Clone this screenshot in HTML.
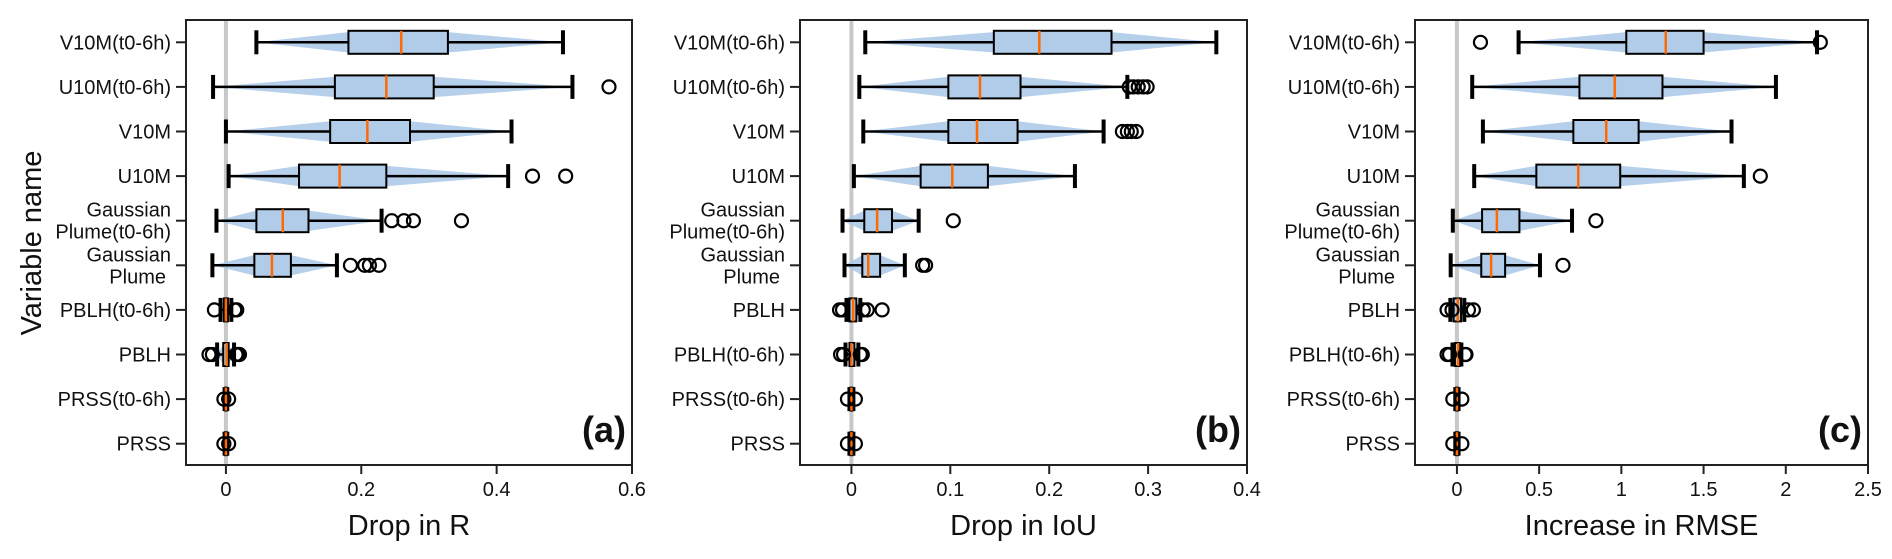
<!DOCTYPE html>
<html><head><meta charset="utf-8"><style>
html,body{margin:0;padding:0;background:#fff;}
svg{display:block;font-family:"Liberation Sans",sans-serif;}
</style></head><body>
<svg id="chart" width="1892" height="559" viewBox="0 0 1892 559" xmlns="http://www.w3.org/2000/svg"></svg>
<script>
const labelsA = ["V10M(t0-6h)","U10M(t0-6h)","V10M","U10M","Gaussian\nPlume(t0-6h)","Gaussian\nPlume","PBLH(t0-6h)","PBLH","PRSS(t0-6h)","PRSS"];
const labelsBC = ["V10M(t0-6h)","U10M(t0-6h)","V10M","U10M","Gaussian\nPlume(t0-6h)","Gaussian\nPlume","PBLH","PBLH(t0-6h)","PRSS(t0-6h)","PRSS"];

// panel a: Drop in R
const aMin = [0.045,-0.019,0.0,0.004,-0.014,-0.02,-0.008,-0.013,-0.002,-0.002];
const aQ1  = [0.181,0.161,0.154,0.108,0.045,0.042,-0.003,-0.004,-0.001,-0.001];
const aMed = [0.259,0.237,0.209,0.168,0.084,0.068,0.0,0.001,0.0,0.0];
const aQ3  = [0.328,0.307,0.272,0.237,0.122,0.096,0.003,0.004,0.001,0.001];
const aMax = [0.498,0.512,0.422,0.417,0.23,0.164,0.008,0.012,0.002,0.002];
const aOut = [[],[0.566],[],[0.453,0.502],[0.245,0.263,0.277,0.348],[0.184,0.205,0.212,0.226],[-0.017,0.013,0.016],[-0.025,-0.02,0.015,0.018,0.02],[-0.003,0.004],[-0.003,0.004]];
const aTicks = [0,0.2,0.4,0.6];
const aTickLabels = ["0","0.2","0.4","0.6"];

// panel b: Drop in IoU
const bMin = [0.014,0.008,0.012,0.0025,-0.009,-0.007,-0.005,-0.006,-0.002,-0.002];
const bQ1  = [0.144,0.098,0.098,0.070,0.013,0.011,-0.002,-0.002,-0.001,-0.001];
const bMed = [0.19,0.130,0.127,0.102,0.026,0.017,0.0017,0.0,0.0,0.0];
const bQ3  = [0.263,0.171,0.168,0.138,0.041,0.029,0.005,0.003,0.001,0.001];
const bMax = [0.369,0.279,0.255,0.226,0.068,0.054,0.009,0.007,0.002,0.002];
const bOut = [[],[0.281,0.285,0.29,0.295,0.299],[0.274,0.279,0.283,0.288],[],[0.103],[0.072,0.075],[-0.012,-0.009,0.012,0.016,0.031],[-0.011,-0.008,0.009,0.011],[-0.004,0.004],[-0.004,0.004]];
const bTicks = [0,0.1,0.2,0.3,0.4];
const bTickLabels = ["0","0.1","0.2","0.3","0.4"];

// panel c: Increase in RMSE
const cMin = [0.375,0.093,0.158,0.105,-0.025,-0.038,-0.04,-0.027,-0.01,-0.01];
const cQ1  = [1.03,0.745,0.708,0.483,0.153,0.148,-0.02,-0.012,-0.005,-0.005];
const cMed = [1.27,0.96,0.908,0.738,0.243,0.208,0.005,0.007,0.0,0.0];
const cQ3  = [1.5,1.25,1.105,0.993,0.38,0.293,0.025,0.017,0.005,0.005];
const cMax = [2.19,1.94,1.67,1.745,0.7,0.505,0.045,0.027,0.01,0.01];
const cOut = [[0.143,2.21],[],[],[1.845],[0.845],[0.645],[-0.06,-0.03,0.07,0.1],[-0.06,-0.045,0.05,0.055],[-0.025,0.03],[-0.025,0.03]];
const cTicks = [0,0.5,1,1.5,2,2.5];
const cTickLabels = ["0","0.5","1","1.5","2","2.5"];

const NS="http://www.w3.org/2000/svg";
const svg=document.getElementById('chart');
function mk(tag,attrs,parent){const e=document.createElementNS(NS,tag);for(const k in attrs)e.setAttribute(k,attrs[k]);(parent||svg).appendChild(e);return e;}

const TOP=20,BOT=465,ROW0=42.3,ROWSTEP=44.6;
function yPos(i){return ROW0+ROWSTEP*i;}

function panel(p){
  const g=mk('g',{});
  
  
  const x=v=>p.left+(v-p.xmin)/(p.xmax-p.xmin)*(p.right-p.left);
  // zero line
  const zl=mk('line',{x1:x(0),x2:x(0),y1:TOP,y2:BOT,stroke:'#c8c8c8','stroke-width':4},g);
  
  
  for(let i=0;i<p.labels.length;i++){
    const y=yPos(i);
    const rg=mk('g',{},g);
    
    
    const w=12;
    const lo=p.mn[i],hi=p.mx[i];
    const pts=[[x(lo),y],[x(p.q1[i]),y-w*0.85],[x(p.md[i]),y-w],[x(p.q3[i]),y-w*0.85],[x(hi),y],[x(p.q3[i]),y+w*0.85],[x(p.md[i]),y+w],[x(p.q1[i]),y+w*0.85]];
    const vi=mk('polygon',{points:pts.map(q=>q.join(',')).join(' '),fill:'#a9c8e8','fill-opacity':0.85},rg);
    
    
    mk('line',{x1:x(lo),x2:x(p.q1[i]),y1:y,y2:y,stroke:'#000','stroke-width':2.5},rg);
    mk('line',{x1:x(p.q3[i]),x2:x(hi),y1:y,y2:y,stroke:'#000','stroke-width':2.5},rg);
    mk('line',{x1:x(lo),x2:x(lo),y1:y-12,y2:y+12,stroke:'#000','stroke-width':4},rg);
    mk('line',{x1:x(hi),x2:x(hi),y1:y-12,y2:y+12,stroke:'#000','stroke-width':4},rg);
    const bx=mk('rect',{x:x(p.q1[i]),y:y-11.5,width:Math.max(0.5,x(p.q3[i])-x(p.q1[i])),height:23,fill:'#b0cce8',stroke:'#000','stroke-width':2},rg);
    
    
    const me=mk('line',{x1:x(p.md[i]),x2:x(p.md[i]),y1:y-11.5,y2:y+11.5,stroke:'#ff6a00','stroke-width':2.5},rg);
    
    
    p.out[i].forEach(v=>{
      const c=mk('circle',{cx:x(v),cy:y,r:6.5,fill:'none',stroke:'#000','stroke-width':2.2},rg);
      
      
    });
    // y tick + label
    mk('line',{x1:p.left-10,x2:p.left,y1:y,y2:y,stroke:'#222','stroke-width':2},g);
    const lines=p.labels[i].split('\n');
    const t=mk('text',{'font-size':20,'text-anchor':'end',fill:'#111'},g);
    
    
    if(lines.length===1){
      t.setAttribute('x',p.left-15);t.setAttribute('y',y+7);t.textContent=lines[0];
    } else {
      const t1=mk('tspan',{x:p.left-15,y:y-4},t);t1.textContent=lines[0];
      const t2=mk('tspan',{x:p.left-15-(lines[1]==='Plume'?5:0),y:y+18},t);t2.textContent=lines[1];
    }
  }
  // x ticks
  p.ticks.forEach((v,k)=>{
    mk('line',{x1:x(v),x2:x(v),y1:BOT,y2:BOT+9,stroke:'#222','stroke-width':2},g);
    const t=mk('text',{x:x(v),y:BOT+31,'font-size':20,'text-anchor':'middle',fill:'#111'},g);
    
    
    t.textContent=p.tickLabels[k];
  });
  const fr=mk('rect',{x:p.left,y:TOP,width:p.right-p.left,height:BOT-TOP,fill:'none',stroke:'#222','stroke-width':2},g);
  
  
  const xt=mk('text',{x:(p.left+p.right)/2,y:535,'font-size':29,'text-anchor':'middle',fill:'#111'},g);
  
  
  xt.textContent=p.xtitle;
  const pl=mk('text',{x:p.right-6,y:442,'font-size':36,'font-weight':'bold','text-anchor':'end',fill:'#111'},g);
  
  
  pl.textContent=p.tag;
}

panel({name:'panel-a-drop-in-r',left:186,right:632,xmin:-0.059,xmax:0.6,labels:labelsA,mn:aMin,q1:aQ1,md:aMed,q3:aQ3,mx:aMax,out:aOut,ticks:aTicks,tickLabels:aTickLabels,xtitle:'Drop in R',tag:'(a)'});
panel({name:'panel-b-drop-in-iou',left:800,right:1247,xmin:-0.052,xmax:0.4,labels:labelsBC,mn:bMin,q1:bQ1,md:bMed,q3:bQ3,mx:bMax,out:bOut,ticks:bTicks,tickLabels:bTickLabels,xtitle:'Drop in IoU',tag:'(b)'});
panel({name:'panel-c-increase-in-rmse',left:1415,right:1868,xmin:-0.255,xmax:2.5,labels:labelsBC,mn:cMin,q1:cQ1,md:cMed,q3:cQ3,mx:cMax,out:cOut,ticks:cTicks,tickLabels:cTickLabels,xtitle:'Increase in RMSE',tag:'(c)'});

const yt=mk('text',{x:0,y:0,'font-size':29,'text-anchor':'middle',fill:'#111',transform:'translate(41,243) rotate(-90)'});


yt.textContent='Variable name';
</script>
</body></html>
